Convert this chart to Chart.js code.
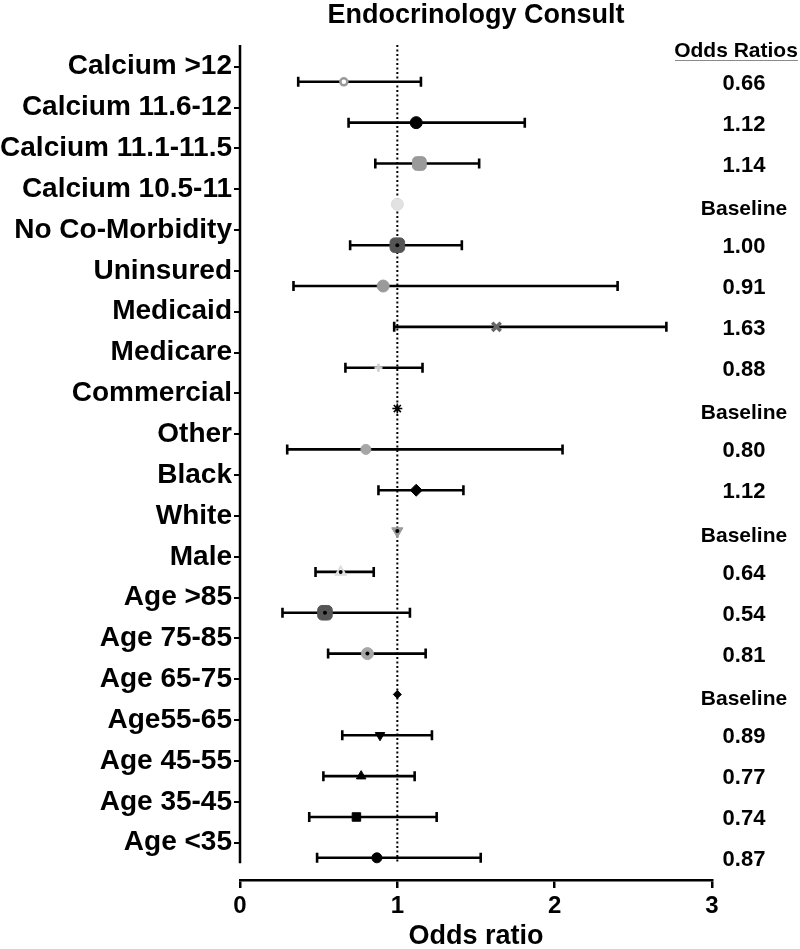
<!DOCTYPE html>
<html>
<head>
<meta charset="utf-8">
<script src="https://cdn.jsdelivr.net/npm/chart.js@4.4.1/dist/chart.umd.min.js"></script>
<style>
  html, body { margin: 0; padding: 0; background: #ffffff; }
  #wrap { width: 800px; height: 949px; position: relative; }
</style>
</head>
<body>
<div id="wrap"><canvas id="c" width="800" height="949"></canvas></div>
<script>
// ---- data (top to bottom) ----
const categories = [
  'Calcium >12', 'Calcium 11.6-12', 'Calcium 11.1-11.5', 'Calcium 10.5-11',
  'No Co-Morbidity', 'Uninsured', 'Medicaid', 'Medicare', 'Commercial',
  'Other', 'Black', 'White', 'Male', 'Age >85', 'Age 75-85', 'Age 65-75',
  'Age55-65', 'Age 45-55', 'Age 35-45', 'Age <35'
];
const oddsRatio = [0.66, 1.12, 1.14, 1.00, 1.00, 0.91, 1.63, 0.88, 1.00, 0.80,
                   1.12, 1.00, 0.64, 0.54, 0.81, 1.00, 0.89, 0.77, 0.74, 0.87];
const ciLower = [0.37, 0.69, 0.86, null, 0.70, 0.34, 0.98, 0.67, null, 0.30,
                 0.88, null, 0.48, 0.27, 0.56, null, 0.65, 0.53, 0.44, 0.49];
const ciUpper = [1.15, 1.81, 1.52, null, 1.41, 2.40, 2.71, 1.16, null, 2.05,
                 1.42, null, 0.85, 1.08, 1.18, null, 1.22, 1.11, 1.25, 1.53];
const orText = ['0.66', '1.12', '1.14', 'Baseline', '1.00', '0.91', '1.63', '0.88', 'Baseline', '0.80',
                '1.12', 'Baseline', '0.64', '0.54', '0.81', 'Baseline', '0.89', '0.77', '0.74', '0.87'];
const xTicks = [0, 1, 2, 3];

// ---- styling ----
const FONT = '"Liberation Sans", Arial, Helvetica, sans-serif';
const N = categories.length;
const ROW_OFFSET = 0.37;           // markers sit a little below each category tick
const Y_MIN = 0.087, Y_MAX = 20.53, Y_AXIS_END = 0.5;
const markerStyle = [
  {s: 'circle',      r: 3.5, bg: '#ffffff', bc: '#9a9a9a', bw: 2.5},
  {s: 'circle',      r: 6,   bg: '#000000', bc: '#000000', bw: 1},
  {s: 'rectRounded', r: 8,   bg: '#9a9a9a', bc: '#9a9a9a', bw: 1},
  {s: 'circle',      r: 6,   bg: '#e2e2e2', bc: '#dcdcdc', bw: 1},
  {s: 'rectRounded', r: 8.5, bg: '#555555', bc: '#555555', bw: 1},
  {s: 'circle',      r: 6,   bg: '#9a9a9a', bc: '#9a9a9a', bw: 1},
  {s: 'crossRot',    r: 6,   bg: '#666666', bc: '#666666', bw: 3.5},
  {s: 'cross',       r: 4,   bg: '#cccccc', bc: '#cccccc', bw: 2.5},
  {s: 'star',        r: 5,   bg: '#000000', bc: '#000000', bw: 1.6},
  {s: 'circle',      r: 5,   bg: '#a6a6a6', bc: '#a6a6a6', bw: 1},
  {s: 'rectRot',     r: 6,   bg: '#000000', bc: '#000000', bw: 1},
  {s: 'triangle',    r: 6.5, bg: '#9a9a9a', bc: '#9a9a9a', bw: 1, rot: 180},
  {s: 'triangle',    r: 5.5, bg: '#ffffff', bc: '#dddddd', bw: 2},
  {s: 'rectRounded', r: 8.5, bg: '#555555', bc: '#555555', bw: 1},
  {s: 'circle',      r: 6,   bg: '#a6a6a6', bc: '#a6a6a6', bw: 1},
  {s: 'rectRot',     r: 4,   bg: '#000000', bc: '#000000', bw: 1},
  {s: 'triangle',    r: 5.5, bg: '#000000', bc: '#000000', bw: 1, rot: 180},
  {s: 'triangle',    r: 5.5, bg: '#000000', bc: '#000000', bw: 1},
  {s: 'rect',        r: 6,   bg: '#000000', bc: '#000000', bw: 1},
  {s: 'circle',      r: 5,   bg: '#000000', bc: '#000000', bw: 1}
];
// small dark centres drawn on some grey markers
const innerDot = [false, false, false, false, true, false, false, false, false, false,
                  false, true, true, true, true, false, false, false, false, false];

const rowValue = i => (N - i) - ROW_OFFSET;
const points = oddsRatio.map((v, i) => ({x: v, y: rowValue(i)}));

const forestPlugin = {
  id: 'forest',
  beforeDatasetsDraw(chart) {
    const {ctx, scales: {x, y}} = chart;
    ctx.save();
    // dotted reference line at OR = 1
    const x1 = x.getPixelForValue(1);
    ctx.strokeStyle = '#000';
    ctx.lineWidth = 2;
    ctx.setLineDash([2, 2.5]);
    ctx.beginPath();
    ctx.moveTo(x1, y.getPixelForValue(Y_MAX));
    ctx.lineTo(x1, y.getPixelForValue(Y_AXIS_END));
    ctx.stroke();
    ctx.setLineDash([]);
    // y axis line (stops short of x axis)
    const xl = x.getPixelForValue(0);
    ctx.lineWidth = 2.5;
    ctx.beginPath();
    ctx.moveTo(xl, y.getPixelForValue(Y_MAX));
    ctx.lineTo(xl, y.getPixelForValue(Y_AXIS_END));
    ctx.stroke();
    // confidence interval whiskers
    ctx.lineWidth = 2.6;
    for (let i = 0; i < N; i++) {
      if (ciLower[i] == null) continue;
      const py = y.getPixelForValue(rowValue(i));
      const a = x.getPixelForValue(ciLower[i]);
      const b = x.getPixelForValue(ciUpper[i]);
      ctx.beginPath();
      ctx.moveTo(a, py); ctx.lineTo(b, py);
      ctx.moveTo(a, py - 5); ctx.lineTo(a, py + 5);
      ctx.moveTo(b, py - 5); ctx.lineTo(b, py + 5);
      ctx.stroke();
    }
    ctx.restore();
  },
  afterDatasetsDraw(chart) {
    const {ctx, scales: {x, y}} = chart;
    ctx.save();
    ctx.fillStyle = '#000';
    for (let i = 0; i < N; i++) {
      if (!innerDot[i]) continue;
      ctx.beginPath();
      ctx.arc(x.getPixelForValue(oddsRatio[i]), y.getPixelForValue(rowValue(i)), 2, 0, Math.PI * 2);
      ctx.fill();
    }
    ctx.restore();
  },
  afterDraw(chart) {
    const {ctx, scales: {y}} = chart;
    ctx.save();
    ctx.fillStyle = '#000';
    ctx.textAlign = 'center';
    ctx.textBaseline = 'middle';
    ctx.font = 'bold 21px ' + FONT;
    ctx.fillText('Odds Ratios', 736, 51);
    ctx.strokeStyle = '#8a8a8a';
    ctx.lineWidth = 1;
    ctx.beginPath();
    ctx.moveTo(675, 60.5); ctx.lineTo(798, 60.5);
    ctx.stroke();
    ctx.font = 'bold 22px ' + FONT;
    for (let i = 0; i < N; i++) {
      const base = orText[i] === 'Baseline';
      ctx.font = 'bold ' + (base ? 21 : 22) + 'px ' + FONT;
      const py = y.getPixelForValue(rowValue(i)) + (base ? 5 : 2);
      ctx.fillText(orText[i], 744, py);
    }
    ctx.restore();
  }
};

new Chart(document.getElementById('c'), {
  type: 'scatter',
  data: {
    datasets: [{
      data: points,
      showLine: false,
      pointStyle: markerStyle.map(m => m.s),
      pointRadius: markerStyle.map(m => m.r),
      pointBackgroundColor: markerStyle.map(m => m.bg),
      pointBorderColor: markerStyle.map(m => m.bc),
      pointBorderWidth: markerStyle.map(m => m.bw),
      pointRotation: markerStyle.map(m => m.rot || 0),
      pointHoverRadius: markerStyle.map(m => m.r)
    }]
  },
  options: {
    responsive: false,
    animation: false,
    events: [],
    layout: { padding: { left: 0, right: 88, top: 0, bottom: 0 } },
    plugins: {
      legend: { display: false },
      tooltip: { enabled: false },
      title: {
        display: true,
        text: 'Endocrinology Consult',
        fullSize: false,
        color: '#000',
        font: { family: FONT, size: 27, weight: 'bold', lineHeight: 1.15 },
        padding: { top: 0, bottom: 14 }
      }
    },
    scales: {
      x: {
        type: 'linear',
        min: 0, max: 3,
        afterBuildTicks: s => { s.ticks = xTicks.map(v => ({value: v})); },
        afterFit: s => { s.height = 69; },
        border: { display: true, color: '#000', width: 2.5 },
        grid: { drawOnChartArea: false, drawTicks: true, tickLength: 8, color: '#000', lineWidth: 2.5 },
        ticks: {
          color: '#000', padding: 4,
          font: { family: FONT, size: 24, weight: 'bold' },
          callback: v => String(v)
        },
        title: {
          display: true, text: 'Odds ratio', color: '#000',
          font: { family: FONT, size: 27, weight: 'bold', lineHeight: 0.9 },
          padding: { top: 0, bottom: 0 }
        }
      },
      y: {
        type: 'linear',
        min: Y_MIN, max: Y_MAX,
        afterBuildTicks: s => { s.ticks = categories.map((c, i) => ({value: N - i})); },
        afterFit: s => { s.width = 240; },
        border: { display: false },
        grid: { drawOnChartArea: false, drawTicks: true, tickLength: 6, color: '#000', lineWidth: 2 },
        ticks: {
          color: '#000', padding: 2, autoSkip: false,
          font: { family: FONT, size: 28, weight: 'bold' },
          callback: v => categories[N - v]
        }
      }
    }
  },
  plugins: [forestPlugin]
});
</script>
</body>
</html>
